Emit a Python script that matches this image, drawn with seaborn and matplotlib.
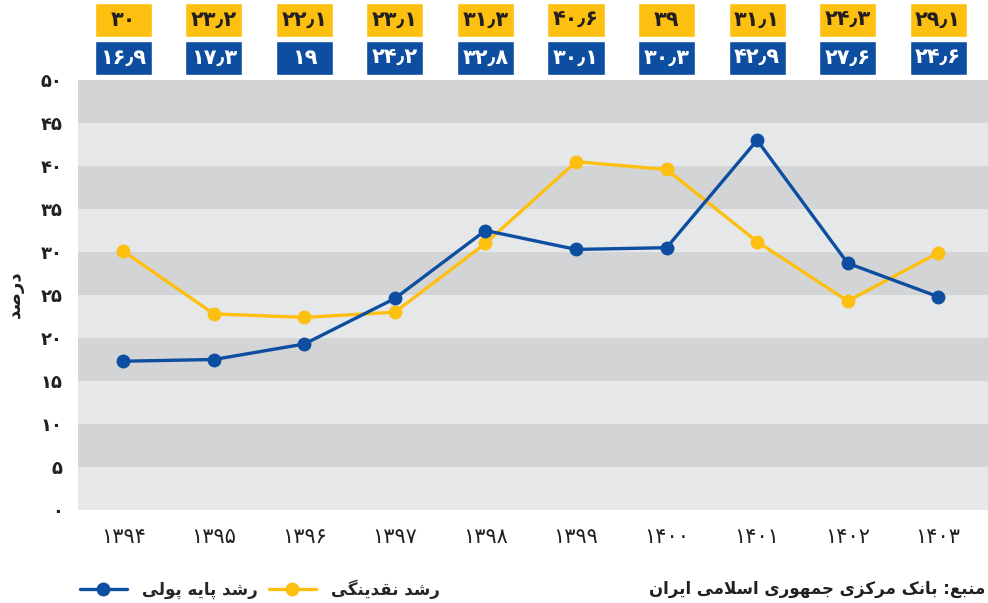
import numpy as np
import pandas as pd
import matplotlib
matplotlib.use('Agg')
import matplotlib.pyplot as plt
from matplotlib.lines import Line2D
import seaborn as sns

# ── Data ───────────────────────────────────────────────────
years          = [1394, 1395, 1396, 1397, 1398, 1399, 1400, 1401, 1402, 1403]
# values printed in the boxes above the chart
base_labels    = [16.9, 17.3, 19.0, 24.2, 32.8, 30.1, 30.3, 42.9, 27.6, 24.6]
liq_labels     = [30.0, 23.2, 22.1, 23.1, 31.3, 40.6, 39.0, 31.1, 24.3, 29.1]
# values as the markers are drawn in the chart
base_money     = [17.3, 17.5, 19.3, 24.6, 32.5, 30.3, 30.5, 43.0, 28.7, 24.8]
liquidity      = [30.1, 22.8, 22.4, 23.0, 31.0, 40.5, 39.6, 31.2, 24.3, 29.9]
y_ticks        = list(range(0, 55, 5))

label_base     = 'رشد پایه پولی'
label_liq      = 'رشد نقدینگی'
label_y        = 'درصد'
label_source   = 'منبع: بانک مرکزی جمهوری اسلامی ایران'

BLUE   = '#0d4ea0'
YELLOW = '#fdc010'
INK    = '#231f20'

# ── Minimal Persian shaping (matplotlib has no bidi/shaping) ──
FORMS = {
    'ا': ('\uFE8D', '\uFE8E', None, None),
    'ب': ('\uFE8F', '\uFE90', '\uFE91', '\uFE92'),
    'پ': ('\uFB56', '\uFB57', '\uFB58', '\uFB59'),
    'ج': ('\uFE9D', '\uFE9E', '\uFE9F', '\uFEA0'),
    'د': ('\uFEA9', '\uFEAA', None, None),
    'ر': ('\uFEAD', '\uFEAE', None, None),
    'ز': ('\uFEAF', '\uFEB0', None, None),
    'س': ('\uFEB1', '\uFEB2', '\uFEB3', '\uFEB4'),
    'ش': ('\uFEB5', '\uFEB6', '\uFEB7', '\uFEB8'),
    'ص': ('\uFEB9', '\uFEBA', '\uFEBB', '\uFEBC'),
    'ع': ('\uFEC9', '\uFECA', '\uFECB', '\uFECC'),
    'ق': ('\uFED5', '\uFED6', '\uFED7', '\uFED8'),
    'ک': ('\uFB8E', '\uFB8F', '\uFB90', '\uFB91'),
    'گ': ('\uFB92', '\uFB93', '\uFB94', '\uFB95'),
    'ل': ('\uFEDD', '\uFEDE', '\uFEDF', '\uFEE0'),
    'م': ('\uFEE1', '\uFEE2', '\uFEE3', '\uFEE4'),
    'ن': ('\uFEE5', '\uFEE6', '\uFEE7', '\uFEE8'),
    'ه': ('\uFEE9', '\uFEEA', '\uFEEB', '\uFEEC'),
    'و': ('\uFEED', '\uFEEE', None, None),
    'ی': ('\uFBFC', '\uFBFD', '\uFBFE', '\uFBFF'),
}

def dual(c):
    return c in FORMS and FORMS[c][2] is not None

def fa(text):
    chars, res, i = list(text), [], 0
    while i < len(chars):
        c = chars[i]
        prev = chars[i-1] if i > 0 else None
        con_prev = prev is not None and dual(prev)
        if c not in FORMS:
            res.append(c); i += 1; continue
        if c == 'ل' and i + 1 < len(chars) and chars[i+1] == 'ا':
            res.append('\uFEFC' if con_prev else '\uFEFB'); i += 2; continue
        nxt = chars[i+1] if i + 1 < len(chars) else None
        con_next = dual(c) and nxt in FORMS
        iso, fin, ini, med = FORMS[c]
        res.append(med if con_prev and con_next else fin if con_prev else ini if con_next else iso)
        i += 1
    return ''.join(reversed(res))

DIGITS = str.maketrans('0123456789.', '۰۱۲۳۴۵۶۷۸۹٫')
def fnum(v):
    s = f'{v:.1f}'.rstrip('0').rstrip('.') if isinstance(v, float) else str(v)
    return s.translate(DIGITS)

# ── Figure ─────────────────────────────────────────────────
sns.set_style('white')
plt.rcParams['font.family'] = ['DejaVu Sans']

fig = plt.figure(figsize=(9.88, 6.03), dpi=100)
ax     = fig.add_axes([78/988, 93/603, 910/988, 430/603])
ax_top = fig.add_axes([78/988, 528/603, 910/988, 72/603], sharex=ax)

# alternating bands
for k, lo in enumerate(y_ticks[:-1]):
    ax.axhspan(lo, lo + 5, color='#e6e7e8' if k % 2 == 0 else '#d3d4d6', lw=0, zorder=0)

df = pd.DataFrame({'year': years, 'base': base_money, 'liq': liquidity})
sns.lineplot(data=df, x='year', y='liq', ax=ax, color=YELLOW, lw=2.4, marker='o',
             markersize=10, markeredgewidth=0, zorder=3)
sns.lineplot(data=df, x='year', y='base', ax=ax, color=BLUE, lw=2.4, marker='o',
             markersize=10, markeredgewidth=0, zorder=4)

ax.set_xlim(years[0] - 0.5, years[-1] + 0.55)
ax.set_ylim(0, 50)
ax.set_yticks(y_ticks)
ax.set_yticklabels([fnum(t) for t in y_ticks], fontsize=13, fontweight='bold', color=INK)
ax.set_xticks(years)
ax.set_xticklabels([fnum(y) for y in years], fontsize=15, color=INK)
ax.tick_params(axis='both', length=0)
ax.tick_params(axis='y', pad=11)
ax.tick_params(axis='x', pad=12)
ax.set_xlabel('')
ax.set_ylabel('')
sns.despine(ax=ax, left=True, bottom=True)
fig.text(15/988, 1 - 294/603, fa(label_y), rotation=90, ha='center', va='center',
         fontsize=13, fontweight='bold', color=INK)

# value boxes above the chart
ax_top.bar(years, 34, bottom=38, width=0.63, color=YELLOW)
ax_top.bar(years, 34, bottom=0, width=0.63, color=BLUE)
for yr, lq, bm in zip(years, liq_labels, base_labels):
    ax_top.text(yr, 55, fnum(lq), ha='center', va='center', fontsize=15,
                fontweight='bold', color=INK)
    ax_top.text(yr, 17, fnum(bm), ha='center', va='center', fontsize=15,
                fontweight='bold', color='white')
ax_top.set_ylim(0, 72)
ax_top.axis('off')

# legend + source
handles = [Line2D([], [], color=BLUE, lw=2.4, marker='o', markersize=10, markeredgewidth=0),
           Line2D([], [], color=YELLOW, lw=2.4, marker='o', markersize=10, markeredgewidth=0)]
fig.legend(handles, [fa(label_base), fa(label_liq)], loc='center left',
           bbox_to_anchor=(80/988, 1 - 589/603), ncol=2, frameon=False,
           borderpad=0, borderaxespad=0, handlelength=2.8, columnspacing=0.7,
           handletextpad=0.9, prop={'size': 12, 'weight': 'bold'})
fig.text(985/988, 1 - 589/603, fa(label_source), ha='right', va='center',
         fontsize=12, fontweight='bold', color=INK)

fig.savefig('out.png', dpi=100)
